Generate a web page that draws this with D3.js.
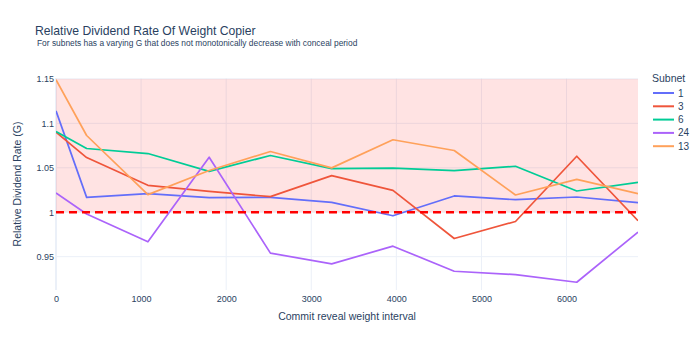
<!DOCTYPE html>
<html><head><meta charset="utf-8">
<script src="https://cdn.jsdelivr.net/npm/d3@7"></script>
<style>body{margin:0;background:#fff}svg{display:block}text{font-family:"Liberation Sans",Arial,sans-serif;fill:#2a3f5f}</style>
</head><body><svg id="c" width="700" height="350"></svg>
<script>
const xValues = [0, 360, 1080, 1800, 2520, 3240, 3960, 4680, 5400, 6120, 6840];
const subnets = ["1", "3", "6", "24", "13"];
const s1  = [1.114, 1.0167, 1.0209, 1.0164, 1.0167, 1.011, 0.996, 1.0183, 1.0141, 1.0171, 1.0107];
const s3  = [1.090, 1.0615, 1.0303, 1.0235, 1.0175, 1.0412, 1.0246, 0.9704, 0.9896, 1.063, 0.9904];
const s6  = [1.0908, 1.0717, 1.066, 1.046, 1.0638, 1.049, 1.0495, 1.0468, 1.0517, 1.0239, 1.0336];
const s24 = [1.0217, 0.998, 0.9667, 1.0619, 0.954, 0.9419, 0.9618, 0.9336, 0.9298, 0.9212, 0.9777];
const s13 = [1.149, 1.0863, 1.0198, 1.047, 1.0683, 1.0499, 1.0815, 1.0694, 1.0194, 1.037, 1.0209];
const seriesValues = [s1, s3, s6, s24, s13];
const colors = ["#636efa", "#EF553B", "#00cc96", "#ab63fa", "#FFA15A"];
const xTicks = [0, 1000, 2000, 3000, 4000, 5000, 6000];
const yTicks = [0.95, 1, 1.05, 1.1, 1.15];
const yTickLabels = ["0.95", "1", "1.05", "1.1", "1.15"];
const bandRange = [1, 1.15];
const refLine = 1;

const svg = d3.select("#c");
const L = 56, R = 638, T = 78, B = 290;
const x = d3.scaleLinear().domain([0, 6840]).range([L, R]);
const y = d3.scaleLinear().domain([0.9125, 1.151]).range([B, T]);

svg.append("defs").append("clipPath").attr("id","clip").append("rect")
  .attr("x", L).attr("y", T).attr("width", R-L).attr("height", B-T);

const g = svg.append("g");
g.selectAll(".gx").data(xTicks).join("line")
  .attr("x1", d=>x(d)).attr("x2", d=>x(d)).attr("y1", T).attr("y2", B)
  .attr("stroke", "#ebf0f8").attr("stroke-width", d=>d===0?2:1);
g.selectAll(".gy").data(yTicks).join("line")
  .attr("x1", L).attr("x2", R).attr("y1", d=>y(d)).attr("y2", d=>y(d))
  .attr("stroke", "#ebf0f8").attr("stroke-width", 1);

svg.append("rect").attr("clip-path","url(#clip)")
  .attr("x", L).attr("width", R-L)
  .attr("y", y(bandRange[1])).attr("height", y(bandRange[0]) - y(bandRange[1]))
  .attr("fill", "rgb(255,0,0)").attr("fill-opacity", 0.11);

const line = d3.line().x((d,i)=>x(xValues[i])).y(d=>y(d));
const lg = svg.append("g").attr("clip-path","url(#clip)");
seriesValues.forEach((vals, k) => {
  lg.append("path").datum(vals).attr("d", line)
    .attr("fill","none").attr("stroke", colors[k]).attr("stroke-width", 1.7)
    .attr("stroke-linejoin","round");
});

svg.append("line").attr("x1", L).attr("x2", R).attr("y1", y(refLine)).attr("y2", y(refLine))
  .attr("stroke", "red").attr("stroke-width", 2.5).attr("stroke-dasharray", "8,5");

const xa = d3.axisBottom(x).tickValues(xTicks).tickSize(0).tickPadding(0).tickFormat(d3.format("d"));
svg.append("g").attr("transform", `translate(0,${B+6})`).call(xa)
  .call(s=>s.select(".domain").remove())
  .selectAll("text").attr("font-size", 9).attr("fill","#2a3f5f").attr("font-family","Liberation Sans, Arial, sans-serif");
const ya = d3.axisLeft(y).tickValues(yTicks).tickSize(0).tickPadding(2).tickFormat((d,i)=>yTickLabels[i]);
svg.append("g").attr("transform", `translate(${L},0)`).call(ya)
  .call(s=>s.select(".domain").remove())
  .selectAll("text").attr("font-size", 9).attr("fill","#2a3f5f").attr("font-family","Liberation Sans, Arial, sans-serif");

svg.append("text").attr("x", 35).attr("y", 35).attr("font-size", 12.2).text("Relative Dividend Rate Of Weight Copier");
svg.append("text").attr("x", 37).attr("y", 46).attr("font-size", 8.4).text("For subnets has a varying G that does not monotonically decrease with conceal period");
svg.append("text").attr("x", (L+R)/2).attr("y", 320).attr("text-anchor","middle").attr("font-size", 10.5).text("Commit reveal weight interval");
svg.append("text").attr("transform", `translate(21,${(T+B)/2}) rotate(-90)`).attr("text-anchor","middle").attr("font-size", 10.5).text("Relative Dividend Rate (G)");

svg.append("text").attr("x", 652).attr("y", 82).attr("font-size", 10.5).text("Subnet");
subnets.forEach((s, k) => {
  const cy = 93 + k*13.3;
  svg.append("line").attr("x1", 653).attr("x2", 674).attr("y1", cy).attr("y2", cy)
    .attr("stroke", colors[k]).attr("stroke-width", 2);
  svg.append("text").attr("x", 678).attr("y", cy+3.5).attr("font-size", 10).text(s);
});
</script></body></html>
